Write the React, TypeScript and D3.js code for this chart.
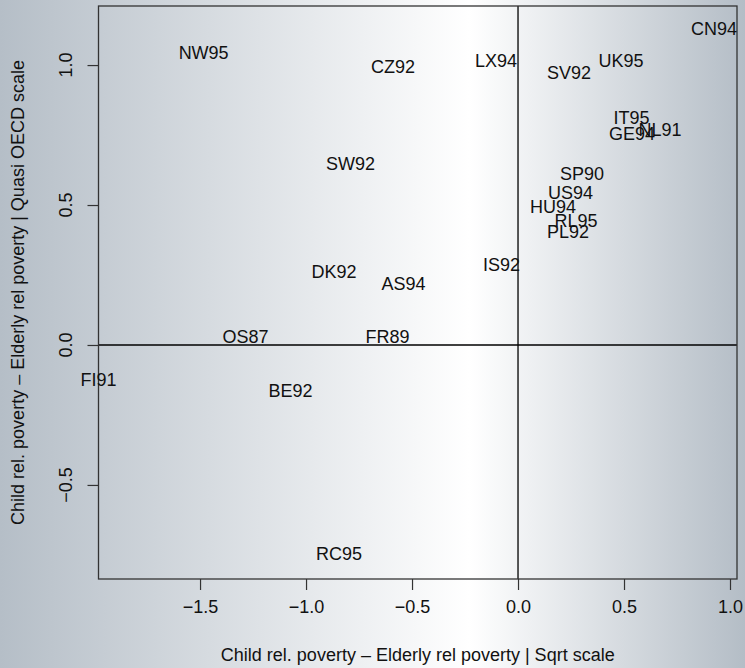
import React, { useRef, useEffect } from 'react';
import * as d3 from 'd3';

// country-year codes and their coordinates
const labels = ['CN94', 'NW95', 'CZ92', 'LX94', 'SV92', 'UK95', 'IT95', 'GE94', 'NL91', 'SW92',
  'SP90', 'US94', 'HU94', 'RL95', 'PL92', 'DK92', 'AS94', 'IS92', 'OS87', 'FR89', 'FI91', 'BE92', 'RC95'];
const xValues = [0.925, -1.483, -0.59, -0.104, 0.241, 0.486, 0.535, 0.538, 0.67, -0.79,
  0.302, 0.248, 0.165, 0.274, 0.236, -0.868, -0.54, -0.078, -1.285, -0.616, -1.979, -1.073, -0.844];
const yValues = [1.129, 1.046, 0.996, 1.018, 0.975, 1.018, 0.814, 0.754, 0.768, 0.65,
  0.611, 0.546, 0.496, 0.446, 0.404, 0.264, 0.218, 0.286, 0.029, 0.032, -0.125, -0.164, -0.746];

const xTicks = [-1.5, -1.0, -0.5, 0.0, 0.5, 1.0];
const yTicks = [-0.5, 0.0, 0.5, 1.0];
const xTitle = 'Child rel. poverty \u2013 Elderly rel poverty | Sqrt scale';
const yTitle = 'Child rel. poverty \u2013 Elderly rel poverty | Quasi OECD scale';

const App = () => {
  const svgRef = useRef<SVGSVGElement>(null);

  useEffect(() => {
    const W = 745, H = 668;
    const svg = d3.select(svgRef.current);
    svg.selectAll('*').remove();
    svg.attr('width', W).attr('height', H);

    const font = "'Liberation Sans', Arial, sans-serif";
    const left = 98.5, right = 737, top = 6, bottom = 579;

    // background gradient
    const defs = svg.append('defs');
    const grad = defs.append('linearGradient').attr('id', 'bg')
      .attr('x1', '0%').attr('x2', '100%').attr('y1', '0%').attr('y2', '0%');
    grad.append('stop').attr('offset', '0%').attr('stop-color', '#b5bec7');
    grad.append('stop').attr('offset', '63%').attr('stop-color', '#ffffff');
    grad.append('stop').attr('offset', '100%').attr('stop-color', '#b4bdc6');
    svg.append('rect').attr('width', W).attr('height', H).attr('fill', 'url(#bg)');

    const x = d3.scaleLinear().domain([-1.979, 1.033]).range([left, right]);
    const y = d3.scaleLinear().domain([-0.836, 1.211]).range([bottom, top]);

    // reference lines at zero
    svg.append('line')
      .attr('x1', left).attr('x2', right).attr('y1', y(0)).attr('y2', y(0))
      .attr('stroke', '#000').attr('stroke-width', 1.3);
    svg.append('line')
      .attr('x1', x(0)).attr('x2', x(0)).attr('y1', top).attr('y2', bottom)
      .attr('stroke', '#000').attr('stroke-width', 1.3);

    // axes
    const xAxis = d3.axisBottom(x).tickValues(xTicks).tickSize(11).tickPadding(10)
      .tickFormat(d => d3.format('.1f')(d as number).replace('-', '\u2212'));
    const gx = svg.append('g').attr('transform', `translate(0,${bottom})`).call(xAxis);
    gx.select('.domain').remove();
    gx.selectAll('line').attr('stroke', '#333').attr('stroke-width', 1.2);
    gx.selectAll('text').attr('font-family', font).attr('font-size', 18).attr('fill', '#111');

    const yAxis = d3.axisLeft(y).tickValues(yTicks).tickSize(11).tickFormat(() => '');
    const gy = svg.append('g').attr('transform', `translate(${left},0)`).call(yAxis);
    gy.select('.domain').remove();
    gy.selectAll('line').attr('stroke', '#333').attr('stroke-width', 1.2);

    svg.append('g').selectAll('text')
      .data(yTicks)
      .enter()
      .append('text')
      .attr('transform', d => `translate(72,${y(d)}) rotate(-90)`)
      .attr('text-anchor', 'middle')
      .attr('font-family', font).attr('font-size', 18).attr('fill', '#111')
      .text(d => d3.format('.1f')(d).replace('-', '\u2212'));

    // plot box
    svg.append('rect')
      .attr('x', left).attr('y', top).attr('width', right - left).attr('height', bottom - top)
      .attr('fill', 'none').attr('stroke', '#333').attr('stroke-width', 1.3);

    // labels as points
    svg.append('g').selectAll('text')
      .data(labels)
      .enter()
      .append('text')
      .attr('x', (_, i) => x(xValues[i]))
      .attr('y', (_, i) => y(yValues[i]))
      .attr('dy', '0.36em')
      .attr('text-anchor', 'middle')
      .attr('font-family', font).attr('font-size', 18).attr('fill', '#111')
      .text(d => d);

    // titles
    svg.append('text')
      .attr('x', (left + right) / 2).attr('y', 661)
      .attr('text-anchor', 'middle')
      .attr('font-family', font).attr('font-size', 18).attr('fill', '#111')
      .text(xTitle);
    svg.append('text')
      .attr('transform', `translate(24,${(top + bottom) / 2}) rotate(-90)`)
      .attr('text-anchor', 'middle')
      .attr('font-family', font).attr('font-size', 18).attr('fill', '#111')
      .text(yTitle);
  }, []);

  return <svg ref={svgRef} style={{ position: 'absolute', left: 0, top: 0, display: 'block' }}></svg>;
};

export default App;
